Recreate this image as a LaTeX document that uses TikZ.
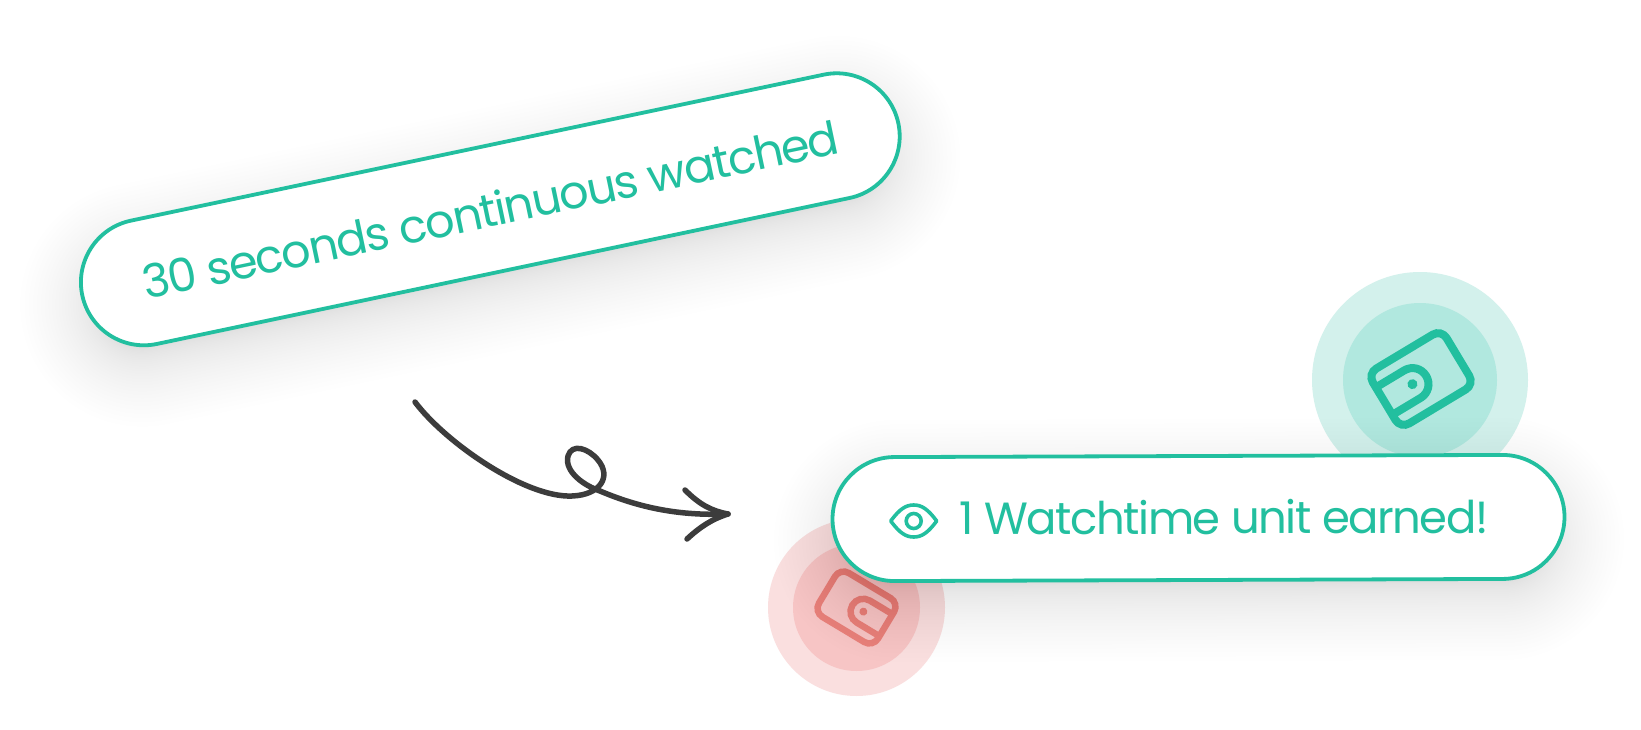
\documentclass[tikz,border=0pt]{standalone}
\usepackage{fontspec}
\setmainfont{Poppins}[LetterSpace=-3.4]
\usetikzlibrary{shapes.misc}

\definecolor{tealline}{HTML}{22BF9F}
\definecolor{inkline}{HTML}{3C3C3C}
\definecolor{redicon}{HTML}{E9827C}
\definecolor{tealouter}{HTML}{D3F1EC}
\definecolor{tealinner}{HTML}{B1E8DF}
\definecolor{redouter}{HTML}{FADFDF}
\definecolor{redinner}{HTML}{F7C5C5}

\tikzset{
  pillbox/.style={rounded rectangle, draw=tealline, line width=3.8, fill=white, text=tealline, inner sep=0, font=\fontsize{46.2}{50}\selectfont},
  pilltext/.style={text=tealline, inner sep=0, font=\fontsize{45}{50}\selectfont},
  coin/.style={circle, inner sep=0, minimum size=#1},
  curlline/.style={inkline, line width=5.5, line cap=round, line join=round},
  wallet/.pic={
    \draw[rounded corners=10] (-43,-32) rectangle (43,32);
    \draw (-43,-16) -- (-10,-16) .. controls (-1,-16) and (6,-9) .. (6,0) .. controls (6,9) and (-1,16) .. (-10,16) -- (-43,16);
    \fill (-10,0) circle (5);
  },
  eyeicon/.pic={
    \draw[line join=round] (-23,0) .. controls (-14,-12) and (-8,-16) .. (0,-16) .. controls (8,-16) and (14,-12) .. (23,0) .. controls (14,12) and (8,16) .. (0,16) .. controls (-8,16) and (-14,12) .. (-23,0) -- cycle;
    \draw (0,0) circle (7.5);
  }
}

% soft shadow under a pill
\newcommand{\pillshadow}[5]{
  \foreach \i in {1,...,36}{
    \pgfmathsetmacro{\w}{2*(#5-22+80*(\i/36)^2)}
    \draw[line width=\w, line cap=round, black, opacity=0.0045] (#1,#2+22) -- (#3,#4+22);
  }
}

\begin{document}
\begin{tikzpicture}[x=1pt,y=-1pt]

\useasboundingbox (0,0) rectangle (1641,730);
\fill[white] (0,0) rectangle (1641,730);

\node (coinG) [coin=216, fill=tealouter] at (1420,380) {};
\node (coinGin) [coin=154, fill=tealinner] at (coinG) {};
\pic[rotate=31, color=tealline, line width=8] at (1421,379) {wallet};

\node (coinR) [coin=177, fill=redouter] at (856.5,607.5) {};
\node (coinRin) [coin=127, fill=redinner] at (coinR) {};
\pic[rotate=-31, xscale=-.8, yscale=.8, color=redicon, line width=6.5] at (coinR) {wallet};

\pillshadow{142.3}{282.6}{838.3}{136}{64}
\node (watched) [pillbox, rotate=11.9, minimum width=834, minimum height=126] at (490.3,209.3) {30 seconds continuous watched};

\pillshadow{895}{519}{1503}{517}{63}
\node (earned) [pillbox, rotate=.2, minimum width=732, minimum height=124] at (1198.5,518) {};
\node (earnedtext) [pilltext, rotate=.2] at (1224,517) {1 Watchtime unit earned!};
\pic[color=tealline, line width=3.6] at (913.7,521) {eyeicon};

\coordinate (curlstart) at (415,402);
\coordinate (curltip) at (728,514);
\coordinate (headup) at (685,490);
\coordinate (headdown) at (687,539);

\draw[curlline] (curlstart) .. controls (445,442) and (525,498) .. (572,496) .. controls (600,495) and (612,477) .. (598,460) .. controls (588,448) and (572,443) .. (568,456) .. controls (564,472) and (585,486) .. (600,491) .. controls (640,508) and (680,516) .. (curltip);
\draw[curlline] (headup) .. controls (700,505) and (712,511) .. (curltip) .. controls (712,519) and (700,527) .. (headdown);

\end{tikzpicture}
\end{document}
